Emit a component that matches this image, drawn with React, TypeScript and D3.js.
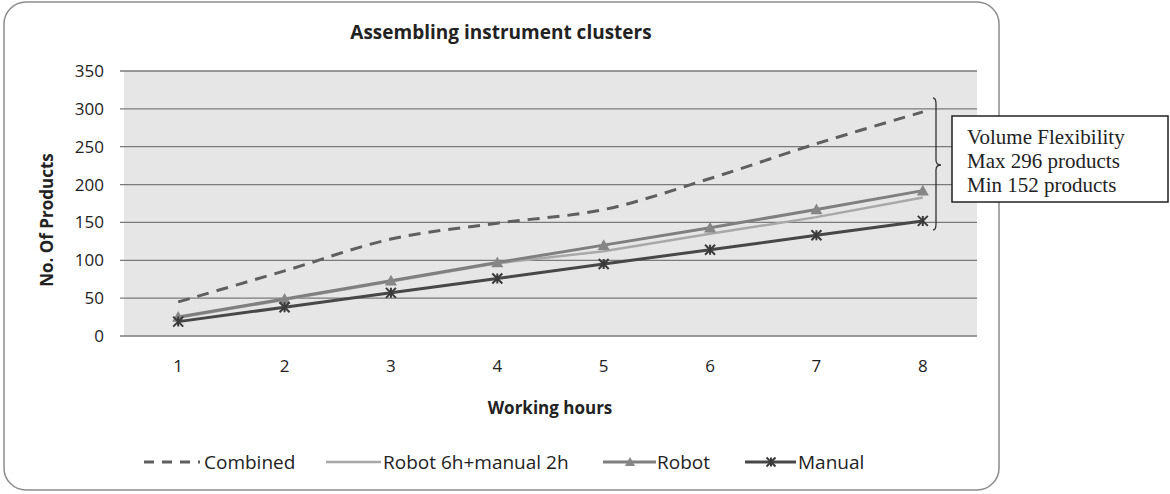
import React from "react";
import * as d3 from "d3";

const hours = [1, 2, 3, 4, 5, 6, 7, 8];
const combined = [45, 86, 128, 149, 167, 208, 254, 296];
const robotManual = [24, 48, 72, 96, 112, 135, 157, 183];
const robot = [25, 49, 73, 97, 120, 143, 167, 192];
const manual = [19, 38, 57, 76, 95, 114, 133, 152];
const yTicks = [0, 50, 100, 150, 200, 250, 300, 350];
const legendLabels = ["Combined", "Robot 6h+manual 2h", "Robot", "Manual"];
const noteLines = ["Volume Flexibility", "Max 296 products", "Min 152 products"];

const W = 1170, H = 494;
const plot = { left: 124, right: 977, top: 71, bottom: 336 };
const SANS = "'Open Sans', Lato, sans-serif";

export default function App() {
  const x = d3.scaleBand<number>().domain(hours).range([plot.left + 1, plot.right - 1]);
  const cx = (h: number) => (x(h) as number) + x.bandwidth() / 2;
  const y = d3.scaleLinear().domain([0, 350]).range([plot.bottom, plot.top]);

  const straight = d3.line<number>().x((_, i) => cx(hours[i])).y((d) => y(d));
  const smooth = d3.line<number>().x((_, i) => cx(hours[i])).y((d) => y(d)).curve(d3.curveCatmullRom.alpha(0.5));

  const tri = (px: number, py: number, s = 6) =>
    `M${px},${py - s}L${px + s},${py + s * 0.8}L${px - s},${py + s * 0.8}Z`;
  const cross = (px: number, py: number, s = 5) =>
    `M${px - s},${py - s}L${px + s},${py + s}M${px - s},${py + s}L${px + s},${py - s}M${px},${py - s}L${px},${py + s}`;

  const bx = 936;
  const bTop = 98, bBot = 230, bMid = 165;

  const ly = 462;

  return (
    <svg width={W} height={H} style={{ display: "block", position: "absolute", left: 0, top: 0 }}>
      <rect x={0} y={0} width={W} height={H} fill="#fff" />
      <rect x={4} y={2} width={995} height={488} rx={22} ry={22} fill="#fff" stroke="#8c8c8c" strokeWidth={1.5} />
      <text x={501} y={39} textAnchor="middle" fontFamily={SANS} fontWeight="bold" fontSize={19} fill="#222">
        Assembling instrument clusters
      </text>
      <rect x={plot.left} y={plot.top} width={plot.right - plot.left} height={plot.bottom - plot.top} fill="#e6e6e6" />
      {yTicks.map((t) => (
        <g key={t}>
          <line x1={plot.left - 4} x2={plot.right} y1={y(t)} y2={y(t)} stroke="#7a7a7a" strokeWidth={1.3} />
          <text x={104} y={y(t) + 6} textAnchor="end" fontFamily={SANS} fontSize={17} fill="#222">{t}</text>
        </g>
      ))}
      {hours.map((h) => (
        <text key={h} x={cx(h)} y={372} textAnchor="middle" fontFamily={SANS} fontSize={17} fill="#222">{h}</text>
      ))}
      <text x={550} y={414} textAnchor="middle" fontFamily={SANS} fontWeight="bold" fontSize={17} fill="#222">Working hours</text>
      <text transform={`translate(53,220) rotate(-90)`} textAnchor="middle" fontFamily={SANS} fontWeight="bold" fontSize={17} fill="#222">
        No. Of Products
      </text>

      <path d={smooth(combined) || ""} fill="none" stroke="#5f5f5f" strokeWidth={3} strokeDasharray="12,8" />
      <path d={straight(robotManual) || ""} fill="none" stroke="#a8a8a8" strokeWidth={2.5} />
      <path d={straight(robot) || ""} fill="none" stroke="#7f7f7f" strokeWidth={3} />
      {robot.map((v, i) => (
        <path key={i} d={tri(cx(hours[i]), y(v))} fill="#868686" />
      ))}
      <path d={straight(manual) || ""} fill="none" stroke="#474747" strokeWidth={3} />
      {manual.map((v, i) => (
        <path key={i} d={cross(cx(hours[i]), y(v))} fill="none" stroke="#3a3a3a" strokeWidth={2} />
      ))}

      <path
        d={`M${bx - 3},${bTop} Q${bx},${bTop} ${bx},${bTop + 6} L${bx},${bMid - 5} Q${bx},${bMid} ${bx + 5},${bMid} Q${bx},${bMid} ${bx},${bMid + 5} L${bx},${bBot - 6} Q${bx},${bBot} ${bx - 3},${bBot}`}
        fill="none" stroke="#333" strokeWidth={1.3}
      />
      <rect x={952} y={116} width={216} height={86} fill="#fff" stroke="#222" strokeWidth={1.5} />
      {noteLines.map((s, i) => (
        <text key={s} x={967} y={144 + i * 24} fontFamily="'Liberation Serif', 'Times New Roman', serif" fontSize={21} fill="#222">{s}</text>
      ))}

      {/* legend */}
      <line x1={144} x2={200} y1={ly} y2={ly} stroke="#5f5f5f" strokeWidth={3} strokeDasharray="10,8" />
      <text x={204} y={ly + 7} fontFamily={SANS} fontSize={19} fill="#222">{legendLabels[0]}</text>
      <line x1={326} x2={381} y1={ly} y2={ly} stroke="#a8a8a8" strokeWidth={2.5} />
      <text x={383} y={ly + 7} fontFamily={SANS} fontSize={19} fill="#222">{legendLabels[1]}</text>
      <line x1={603} x2={656} y1={ly} y2={ly} stroke="#7f7f7f" strokeWidth={3} />
      <path d={tri(630, ly, 5)} fill="#868686" />
      <text x={657} y={ly + 7} fontFamily={SANS} fontSize={19} fill="#222">{legendLabels[2]}</text>
      <line x1={745} x2={796} y1={ly} y2={ly} stroke="#474747" strokeWidth={3} />
      <path d={cross(771, ly, 4.5)} fill="none" stroke="#3a3a3a" strokeWidth={2} />
      <text x={798} y={ly + 7} fontFamily={SANS} fontSize={19} fill="#222">{legendLabels[3]}</text>
    </svg>
  );
}
